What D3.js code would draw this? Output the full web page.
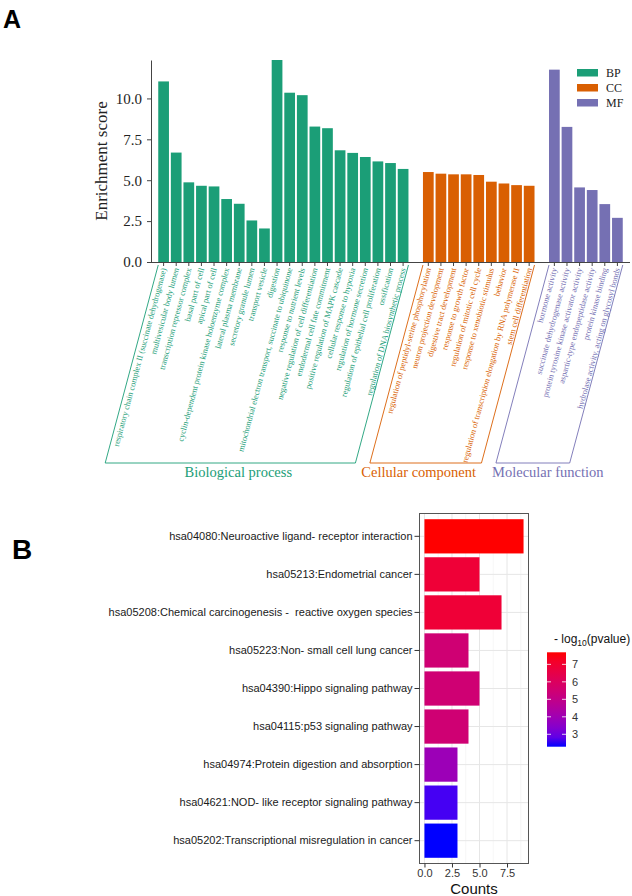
<!DOCTYPE html>
<html>
<head>
<meta charset="utf-8">
<script src="https://cdn.jsdelivr.net/npm/d3@7"></script>
<style>
  body { margin: 0; background: #fff; }
  text { font-family: "Liberation Sans", Arial, sans-serif; }
  .serif text, text.serif { font-family: "Liberation Serif", "Times New Roman", serif; }
</style>
</head>
<body>
<script>

var width = 632
var height = 896

// panel A : GO enrichment
var bpTerms = ["respiratory chain complex II (succinate dehydrogenase)", "multivesicular body lumen",
  "transcription repressor complex", "basal part of cell", "apical part of cell",
  "cyclin-dependent protein kinase holoenzyme complex", "lateral plasma membrane",
  "secretory granule lumen", "transport vesicle", "digestion",
  "mitochondrial electron transport, succinate to ubiquinone", "response to nutrient levels",
  "negative regulation of cell differentiation", "endodermal cell fate commitment",
  "positive regulation of MAPK cascade", "cellular response to hypoxia",
  "regulation of hormone secretion", "regulation of epithelial cell proliferation",
  "ossification", "regulation of DNA biosynthetic process"];
var bpScores = [11.04, 6.69, 4.87, 4.66, 4.62, 3.85, 3.56, 2.54, 2.05, 12.35,
  10.35, 10.2, 8.28, 8.18, 6.83, 6.67, 6.42, 6.15, 6.05, 5.69];

var ccTerms = ["regulation of peptidyl-serine phosphorylation", "neuron projection development",
  "digestive tract development", "response to growth factor", "regulation of mitotic cell cycle",
  "response to xenobiotic stimulus", "behavior",
  "regulation of transcription elongation by RNA polymerase II", "stem cell differentiation"];
var ccScores = [5.50, 5.40, 5.36, 5.36, 5.32, 4.91, 4.80, 4.70, 4.66];

var mfTerms = ["hormone activity", "succinate dehydrogenase activity",
  "protein tyrosine kinase activator activity", "aspartic-type endopeptidase activity",
  "protein kinase binding", "hydrolase activity, acting on glycosyl bonds"];
var mfScores = [11.76, 8.26, 4.56, 4.40, 3.54, 2.70];

var groupKeys = ["BP", "CC", "MF"];
var groupTitles = ["Biological process", "Cellular component", "Molecular function"];
var groupColors = ["#1b9e77", "#d95f02", "#7570b3"];
var yTicksA = [0, 2.5, 5, 7.5, 10];

// panel B : KEGG
var keggTerms = ["hsa04080:Neuroactive ligand- receptor interaction", "hsa05213:Endometrial cancer",
  "hsa05208:Chemical carcinogenesis -  reactive oxygen species", "hsa05223:Non- small cell lung cancer",
  "hsa04390:Hippo signaling pathway", "hsa04115:p53 signaling pathway",
  "hsa04974:Protein digestion and absorption", "hsa04621:NOD- like receptor signaling pathway",
  "hsa05202:Transcriptional misregulation in cancer"];
var keggCounts = [9, 5, 7, 4, 5, 4, 3, 3, 3];
var keggLogP = [7.69, 6.88, 6.88, 5.5, 5.5, 5.5, 3.9, 2.56, 2.29];
var countTicks = [0, 2.5, 5, 7.5];
var countMinor = [1.25, 3.75, 6.25, 8.75];
var logpTicks = [3, 4, 5, 6, 7];

var svg = d3.select("body").append("svg")
  .attr("width", width)
  .attr("height", height);

// ---------- A ----------
var termLists = [bpTerms, ccTerms, mfTerms];
var scoreLists = [bpScores, ccScores, mfScores];
var rows = [];
var slots = [];
termLists.forEach(function(terms, g) {
  if (g > 0) slots.push("gap" + g);
  terms.forEach(function(t, i) {
    var key = groupKeys[g] + i;
    slots.push(key);
    rows.push({ key: key, term: t, score: scoreLists[g][i], g: g });
  });
});

var x = d3.scaleBand().domain(slots).range([151, 630])
  .paddingInner(0.15).paddingOuter(0.575);
var y = d3.scaleLinear().domain([0, d3.max(rows, function(d) { return d.score; })])
  .range([262, 60]);

var gA = svg.append("g").attr("class", "serif");

gA.selectAll(".bar")
  .data(rows).enter()
  .append("rect")
  .attr("x", function(d) { return x(d.key); })
  .attr("y", function(d) { return y(d.score); })
  .attr("width", x.bandwidth())
  .attr("height", function(d) { return y(0) - y(d.score); })
  .attr("fill", function(d) { return groupColors[d.g]; });

var yAxis = gA.append("g")
  .attr("transform", "translate(151,0)")
  .call(d3.axisLeft(y).tickValues(yTicksA).tickFormat(d3.format(".1f"))
    .tickSize(4).tickSizeOuter(0).tickPadding(5));
yAxis.selectAll("text").attr("font-size", 15).attr("fill", "#222")
  .style("font-family", "'Liberation Serif', serif");
yAxis.selectAll("path, line").attr("stroke", "#444");

gA.append("text")
  .attr("transform", "translate(107,161) rotate(-90)")
  .attr("text-anchor", "middle")
  .attr("font-size", 17)
  .attr("fill", "#222")
  .text("Enrichment score");

// x axis line + ticks
gA.append("line")
  .attr("x1", 151).attr("x2", 630).attr("y1", 262.5).attr("y2", 262.5)
  .attr("stroke", "#444");
gA.selectAll(".xtick")
  .data(rows).enter()
  .append("line")
  .attr("x1", function(d) { return x(d.key) + x.bandwidth() / 2; })
  .attr("x2", function(d) { return x(d.key) + x.bandwidth() / 2; })
  .attr("y1", 262.5).attr("y2", 266)
  .attr("stroke", "#444");

var ang = 75;
var tanA = Math.tan((90 - ang) * Math.PI / 180);

gA.selectAll(".xlab")
  .data(rows).enter()
  .append("text")
  .attr("transform", function(d) {
    return "translate(" + (x(d.key) + x.bandwidth() / 2) + ",268) rotate(" + (-ang) + ")";
  })
  .attr("text-anchor", "end")
  .attr("dy", "0.35em")
  .attr("font-size", 8.3)
  .attr("fill", function(d) { return groupColors[d.g]; })
  .text(function(d) { return d.term; });

// group brackets
var brTop = 265, brBottom = 463, shift = (brBottom - brTop) * tanA;
var titleDx = [8, -7, 15];
groupKeys.forEach(function(k, g) {
  var gr = rows.filter(function(d) { return d.g === g; });
  var xL = x(gr[0].key);
  var xR = x(gr[gr.length - 1].key) + x.bandwidth();
  gA.append("path")
    .attr("d", "M" + xL + "," + brTop + "L" + (xL - shift) + "," + brBottom +
      "L" + (xR - shift) + "," + brBottom + "L" + xR + "," + brTop)
    .attr("fill", "none")
    .attr("stroke", groupColors[g])
    .attr("stroke-width", 0.9);
  gA.append("text")
    .attr("x", (xL + xR) / 2 - shift + titleDx[g])
    .attr("y", 477)
    .attr("text-anchor", "middle")
    .attr("font-size", 14.5)
    .attr("fill", groupColors[g])
    .text(groupTitles[g]);
});

// legend
var leg = gA.selectAll(".leg")
  .data(groupKeys).enter()
  .append("g")
  .attr("transform", function(d, i) { return "translate(577," + (69 + i * 15) + ")"; });
leg.append("rect").attr("width", 21).attr("height", 7.5)
  .attr("fill", function(d, i) { return groupColors[i]; });
leg.append("text").attr("x", 29).attr("y", 4).attr("dy", "0.35em")
  .attr("font-size", 12).attr("fill", "#222")
  .text(function(d) { return d; });

svg.append("text").attr("x", 3).attr("y", 28)
  .attr("font-size", 25).attr("font-weight", "bold").text("A");

// ---------- B ----------
var px0 = 419.5, px1 = 528.5, py0 = 513.5, py1 = 863.5;
var xB = d3.scaleLinear().domain([-0.45, 9.45]).range([px0, px1]);
var yB = d3.scaleBand().domain(keggTerms).range([py0, py1])
  .paddingInner(0.1).paddingOuter(0.15);
var color = d3.scaleLinear().domain([2.29, 7.69]).range(["blue", "red"])
  .interpolate(d3.interpolateLab);

var gB = svg.append("g");

gB.selectAll(".minor")
  .data(countMinor).enter()
  .append("line")
  .attr("x1", function(d) { return xB(d); }).attr("x2", function(d) { return xB(d); })
  .attr("y1", py0).attr("y2", py1)
  .attr("stroke", "#f0f0f0").attr("stroke-width", 0.6);
gB.selectAll(".vmajor")
  .data(countTicks).enter()
  .append("line")
  .attr("x1", function(d) { return xB(d); }).attr("x2", function(d) { return xB(d); })
  .attr("y1", py0).attr("y2", py1)
  .attr("stroke", "#e6e6e6").attr("stroke-width", 1);
gB.selectAll(".hmajor")
  .data(keggTerms).enter()
  .append("line")
  .attr("x1", px0).attr("x2", px1)
  .attr("y1", function(d) { return yB(d) + yB.bandwidth() / 2; })
  .attr("y2", function(d) { return yB(d) + yB.bandwidth() / 2; })
  .attr("stroke", "#e6e6e6").attr("stroke-width", 1);

gB.selectAll(".kbar")
  .data(keggTerms).enter()
  .append("rect")
  .attr("x", xB(0))
  .attr("y", function(d) { return yB(d); })
  .attr("width", function(d, i) { return xB(keggCounts[i]) - xB(0); })
  .attr("height", yB.bandwidth())
  .attr("fill", function(d, i) { return color(keggLogP[i]); });

gB.append("rect")
  .attr("x", px0).attr("y", py0)
  .attr("width", px1 - px0).attr("height", py1 - py0)
  .attr("fill", "none").attr("stroke", "#555").attr("stroke-width", 1);

var yAxB = gB.append("g")
  .attr("transform", "translate(" + px0 + ",0)")
  .call(d3.axisLeft(yB).tickSize(5).tickSizeOuter(0).tickPadding(2));
yAxB.select(".domain").remove();
yAxB.selectAll("line").attr("stroke", "#333");
yAxB.selectAll("text").attr("font-size", 11).attr("fill", "#1a1a1a")
  .style("white-space", "pre");

var xAxB = gB.append("g")
  .attr("transform", "translate(0," + py1 + ")")
  .call(d3.axisBottom(xB).tickValues(countTicks).tickFormat(d3.format(".1f"))
    .tickSize(4).tickSizeOuter(0).tickPadding(2));
xAxB.select(".domain").remove();
xAxB.selectAll("line").attr("stroke", "#333");
xAxB.selectAll("text").attr("font-size", 11).attr("fill", "#333");

gB.append("text")
  .attr("x", (px0 + px1) / 2).attr("y", 894)
  .attr("text-anchor", "middle").attr("font-size", 15).attr("fill", "#111")
  .text("Counts");

// colour bar legend
var cb = { x: 547, w: 19, y0: 652.3, y1: 746.7 };
var cbY = d3.scaleLinear().domain(color.domain()).range([cb.y1, cb.y0]);
var grad = svg.append("defs").append("linearGradient")
  .attr("id", "cbgrad").attr("x1", 0).attr("y1", 1).attr("x2", 0).attr("y2", 0);
d3.range(0, 1.0001, 0.1).forEach(function(t) {
  grad.append("stop").attr("offset", t)
    .attr("stop-color", color(color.domain()[0] + t * (color.domain()[1] - color.domain()[0])));
});
gB.append("rect")
  .attr("x", cb.x).attr("y", cb.y0).attr("width", cb.w).attr("height", cb.y1 - cb.y0)
  .attr("fill", "url(#cbgrad)");
var cbt = gB.selectAll(".cbt").data(logpTicks).enter().append("g");
cbt.append("line").attr("x1", cb.x).attr("x2", cb.x + 4)
  .attr("y1", function(d) { return cbY(d); }).attr("y2", function(d) { return cbY(d); })
  .attr("stroke", "#fff").attr("stroke-opacity", 0.8);
cbt.append("line").attr("x1", cb.x + cb.w - 4).attr("x2", cb.x + cb.w)
  .attr("y1", function(d) { return cbY(d); }).attr("y2", function(d) { return cbY(d); })
  .attr("stroke", "#fff").attr("stroke-opacity", 0.8);
cbt.append("text").attr("x", 572).attr("y", function(d) { return cbY(d); })
  .attr("dy", "0.35em").attr("font-size", 11).attr("fill", "#333")
  .text(function(d) { return d; });

var title = gB.append("text").attr("x", 554).attr("y", 643)
  .attr("font-size", 12).attr("fill", "#111");
title.append("tspan").text("- log");
title.append("tspan").attr("font-size", 8.5).attr("dy", 3).text("10");
title.append("tspan").attr("dy", -3).text("(pvalue)");

svg.append("text").attr("x", 12).attr("y", 559)
  .attr("font-size", 28).attr("font-weight", "bold").text("B");

</script>
</body>
</html>
